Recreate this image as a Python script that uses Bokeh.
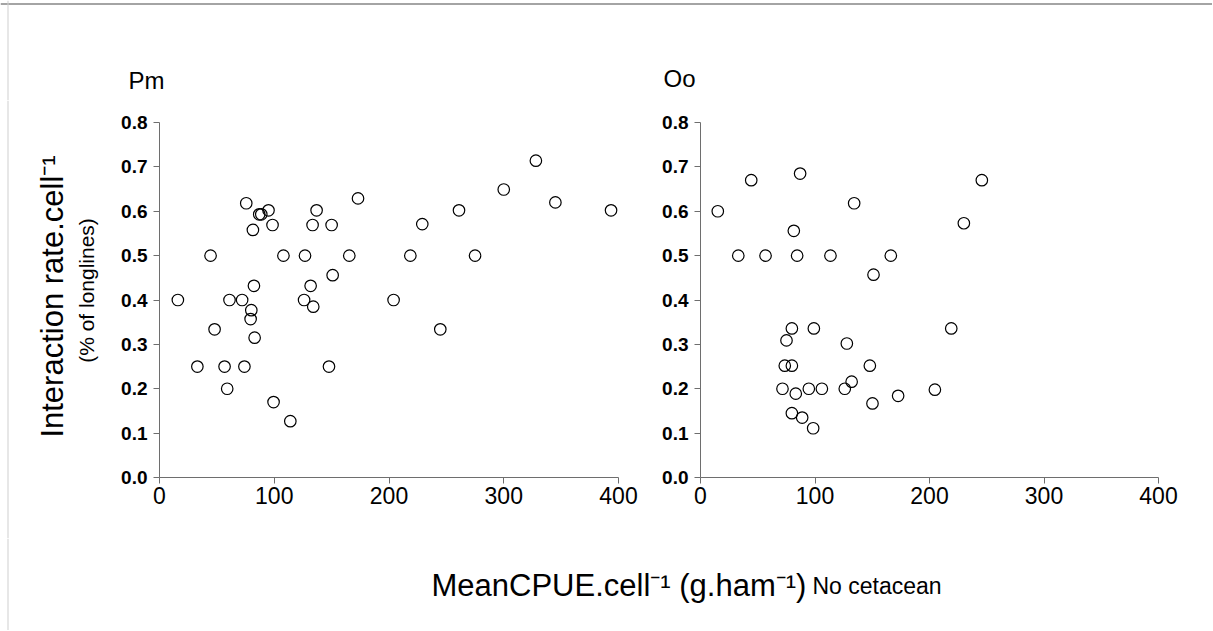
import math
from bokeh.plotting import figure
from bokeh.layouts import row, column
from bokeh.models import Label, FixedTicker, NumeralTickFormatter, Range1d, BoxAnnotation
from bokeh.embed import file_html
from bokeh.resources import INLINE

# ---- data ----
pm_cpue = [16, 33, 44.5, 48, 56.7, 59, 61, 72, 74, 75.6, 80, 79.4, 81.4, 82.3, 82.9,
           86.9, 88.7, 95, 98.5, 99.4, 108, 114, 126, 126.8, 131.7, 133.4, 134, 136.9,
           147.7, 150, 150.9, 165.4, 173, 204, 218.6, 229, 244.7, 261, 275, 300, 328,
           345, 393.5]
pm_rate = [0.40, 0.25, 0.50, 0.334, 0.25, 0.20, 0.40, 0.40, 0.25, 0.618, 0.377, 0.357,
           0.558, 0.432, 0.315, 0.593, 0.593, 0.602, 0.569, 0.170, 0.50, 0.127, 0.40,
           0.50, 0.432, 0.569, 0.385, 0.602, 0.25, 0.569, 0.456, 0.50, 0.629, 0.40,
           0.50, 0.571, 0.334, 0.602, 0.50, 0.649, 0.714, 0.62, 0.602]

oo_cpue = [15.1, 33, 44.3, 56.8, 71.6, 73.6, 75.1, 79.8, 79.8, 79.8, 81.5, 83.2, 84.4,
           87, 88.8, 94.6, 98.4, 99, 106, 113.5, 126, 127.8, 132, 134.2, 147.9, 150.2,
           151.1, 166.2, 172.6, 204.7, 219, 230, 245.7]
oo_rate = [0.60, 0.50, 0.670, 0.50, 0.20, 0.252, 0.309, 0.252, 0.336, 0.145, 0.556,
           0.189, 0.50, 0.685, 0.135, 0.20, 0.111, 0.336, 0.20, 0.50, 0.20, 0.302,
           0.216, 0.618, 0.252, 0.167, 0.457, 0.50, 0.184, 0.198, 0.336, 0.573, 0.670]

x_ticks = [0, 100, 200, 300, 400]
y_ticks = [0.0, 0.1, 0.2, 0.3, 0.4, 0.5, 0.6, 0.7, 0.8]
panel_titles = ["Pm", "Oo"]
y_label = "Interaction rate.cell\u207b\u00b9"
y_sublabel = "(% of longlines)"
x_label = "MeanCPUE.cell\u207b\u00b9 (g.ham\u207b\u00b9)"
x_label_extra = "No cetacean"

FONT = "Liberation Sans"
AXIS_COLOR = "#6e6e6e"
TOTAL_W = 1212
TOP_H = 100
ROW_H = 438
LAB_H = 92
YLAB_W = 110
BORDER_TOP = 22
BORDER_BOTTOM = 61


def blank(width, height):
    f = figure(width=width, height=height, output_backend="svg", toolbar_location=None,
               x_range=Range1d(0, 1), y_range=Range1d(0, 1), min_border=0)
    f.axis.visible = False
    f.grid.visible = False
    f.outline_line_color = None
    f.frame_align = False
    return f


def left_edge(f, height):
    f.add_layout(BoxAnnotation(left=7, right=8, bottom=0, top=height,
                               left_units="screen", right_units="screen",
                               bottom_units="screen", top_units="screen",
                               fill_color="#cfcfcf", fill_alpha=1, line_color=None))


def make_panel(xs, ys, width, bl, br):
    p = figure(width=width, height=ROW_H, output_backend="svg", toolbar_location=None,
               x_range=Range1d(0, 400), y_range=Range1d(0, 0.8),
               min_border_left=bl, min_border_right=br,
               min_border_top=BORDER_TOP, min_border_bottom=BORDER_BOTTOM)
    p.outline_line_color = None
    p.grid.visible = False
    for ax in (p.xaxis[0], p.yaxis[0]):
        ax.axis_line_color = AXIS_COLOR
        ax.axis_line_width = 1
        ax.major_tick_line_color = AXIS_COLOR
        ax.major_tick_in = 0
        ax.major_tick_out = 6
        ax.minor_tick_line_color = None
        ax.major_label_text_font = FONT
        ax.major_label_text_color = "black"
    p.xaxis.ticker = FixedTicker(ticks=x_ticks)
    p.xaxis.major_label_text_font_size = "23px"
    p.xaxis.major_label_standoff = 3
    p.yaxis.ticker = FixedTicker(ticks=y_ticks)
    p.yaxis.formatter = NumeralTickFormatter(format="0.0")
    p.yaxis.major_label_text_font_size = "19px"
    p.yaxis.major_label_text_font_style = "bold"
    p.yaxis.major_label_standoff = 6
    p.scatter(xs, ys, marker="circle", size=11.5, fill_alpha=0,
              line_color="black", line_width=1.2)
    return p


# top strip with panel titles
top = blank(TOTAL_W, TOP_H)
top.add_layout(BoxAnnotation(left=0, right=TOTAL_W, bottom=TOP_H - 4, top=TOP_H - 3,
                             left_units="screen", right_units="screen",
                             bottom_units="screen", top_units="screen",
                             fill_color="#4a4a4a", fill_alpha=1, line_color=None))
left_edge(top, TOP_H)
top.add_layout(Label(x=128, y=TOP_H - 80, x_units="screen", y_units="screen",
                     text=panel_titles[0], text_font=FONT, text_font_size="24px",
                     text_color="black", text_baseline="alphabetic"))
top.add_layout(Label(x=663, y=TOP_H - 78, x_units="screen", y_units="screen",
                     text=panel_titles[1], text_font=FONT, text_font_size="24px",
                     text_color="black", text_baseline="alphabetic"))

# y-axis label strip
ylab = blank(YLAB_W, ROW_H)
left_edge(ylab, ROW_H)
ylab.add_layout(Label(x=52, y=TOP_H + ROW_H - 296, x_units="screen", y_units="screen",
                      text=y_label, angle=math.pi / 2, text_font=FONT,
                      text_font_size="31px", text_align="center",
                      text_baseline="middle", text_color="black"))
ylab.add_layout(Label(x=86, y=TOP_H + ROW_H - 290, x_units="screen", y_units="screen",
                      text=y_sublabel, angle=math.pi / 2, text_font=FONT,
                      text_font_size="21px", text_align="center",
                      text_baseline="middle", text_color="black"))

left = make_panel(pm_cpue, pm_rate, 650 - YLAB_W, 159 - YLAB_W, 32)
right = make_panel(oo_cpue, oo_rate, TOTAL_W - 650, 50, 54)

# x-axis label strip
lab = blank(TOTAL_W, LAB_H)
left_edge(lab, LAB_H)
y0 = TOP_H + ROW_H + LAB_H
lab.add_layout(Label(x=431, y=y0 - 585, x_units="screen", y_units="screen",
                     text=x_label, text_font=FONT, text_font_size="31px",
                     text_color="black", text_baseline="alphabetic"))
lab.add_layout(Label(x=812, y=y0 - 585, x_units="screen", y_units="screen",
                     text=x_label_extra, text_font=FONT, text_font_size="23px",
                     text_color="black", text_baseline="alphabetic"))

layout = column(top, row(ylab, left, right), lab)
open("out.html", "w").write(file_html(layout, INLINE))
